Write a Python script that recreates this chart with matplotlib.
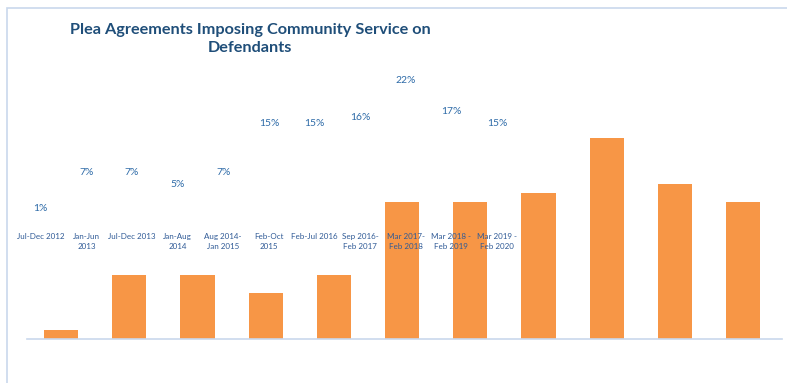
import matplotlib.pyplot as plt
from matplotlib.patches import Rectangle

periods = ["Jul-Dec 2012", "Jan-Jun\n2013", "Jul-Dec 2013", "Jan-Aug\n2014",
           "Aug 2014-\nJan 2015", "Feb-Oct\n2015", "Feb-Jul 2016", "Sep 2016-\nFeb 2017",
           "Mar 2017-\nFeb 2018", "Mar 2018 -\nFeb 2019", "Mar 2019 -\nFeb 2020"]
share = [1, 7, 7, 5, 7, 15, 15, 16, 22, 17, 15]

W, H = 787, 383
fig = plt.figure(figsize=(W / 100, H / 100), dpi=100)

bar_col = "#F79646"
lbl_col = "#2E6BA8"
cat_col = "#2F5A96"

# main bars
ax = fig.add_axes([27 / W, (H - 339) / H, 755 / W, 274 / H])
xs = list(range(len(share)))
ax.bar(xs, share, width=0.5, color=bar_col, zorder=2)
ax.set_xlim(-0.5, 10.57)
ax.set_ylim(0, 30)
ax.set_xticks([])
ax.set_yticks([])
for s in ["top", "right", "left"]:
    ax.spines[s].set_visible(False)
ax.spines["bottom"].set_color("#C9D8EC")
ax.spines["bottom"].set_linewidth(1.2)
ax.patch.set_alpha(0)

# data labels and period names, set on a smaller overlay
ov = fig.add_axes([18 / W, (H - 230) / H, 504 / W, 183 / H])
ov.set_xlim(-0.5, 10.55)
ov.set_ylim(0, 30)
ov.axis("off")
for x, v in zip(xs, share):
    ov.annotate(f"{v}%", (x, v), xytext=(0, 10.8), textcoords="offset points",
                ha="center", va="center", fontsize=7.5, color=lbl_col, family="Lato")
for x, p in zip(xs, periods):
    ov.annotate(p, (x, 0), xytext=(0, -2.5), textcoords="offset points",
                ha="center", va="top", fontsize=5.8, color=cat_col, family="Lato",
                linespacing=1.45)

fig.text(250 / W, 1 - 39 / H, "Plea Agreements Imposing Community Service on\nDefendants",
         ha="center", va="center", fontsize=11.7, fontweight="bold", color="#1F4E79",
         family="Lato", linespacing=1.35)

# chart area border
fig.patches.append(Rectangle((7 / W, -0.1), 1.2, 1.1 - 8 / H, transform=fig.transFigure,
                             fill=False, edgecolor="#C9D8EC", linewidth=1.2))

fig.savefig("out.png", dpi=100)
